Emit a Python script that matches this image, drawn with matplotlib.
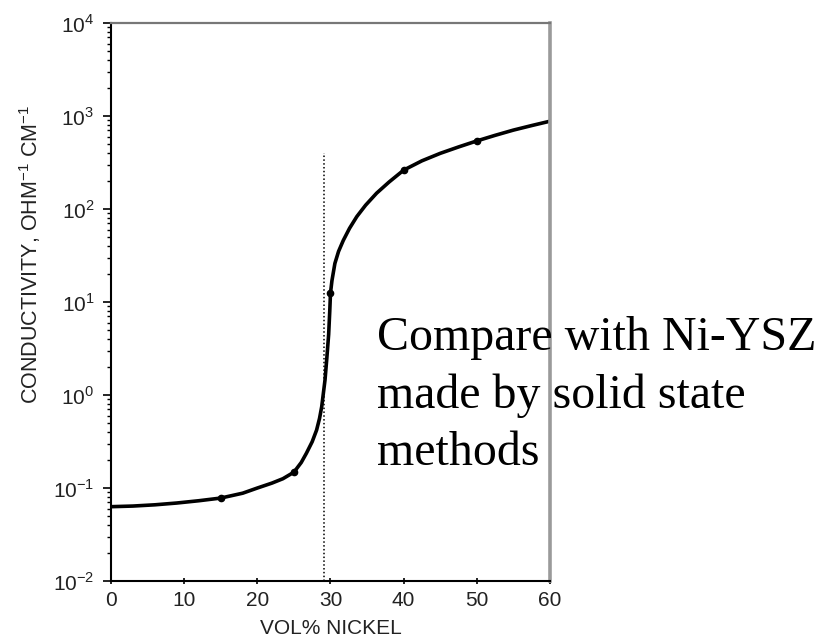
import matplotlib.pyplot as plt
import numpy as np

# conductivity vs nickel content
vol_ni = [0, 3, 6, 9, 12, 15, 18, 20, 22, 23.5, 25, 26, 26.7, 27.5, 28.1, 28.5,
          28.8, 29.25, 29.5, 29.75, 29.9, 30.0, 30.2, 30.6, 31.1, 31.75, 32.6,
          33.6, 34.8, 36.3, 38, 40, 42.5, 45, 47.5, 50, 52.5, 55, 57.5, 60]
sigma = [0.063, 0.064, 0.066, 0.069, 0.073, 0.078, 0.088, 0.100, 0.113, 0.126,
         0.148, 0.188, 0.236, 0.315, 0.42, 0.56, 0.75, 1.45, 2.5, 4.5, 8.0, 12.5,
         17, 26, 35, 46, 62, 83, 110, 148, 195, 262, 330, 397, 465, 540, 620,
         706, 790, 880]

# measured points
pts_x = [15, 25, 30, 40, 50]
pts_y = [0.078, 0.148, 12.5, 262, 540]

# percolation threshold marker
thresh_x = 29.1
thresh_top = 400

note_lines = ["Compare with Ni-YSZ", "made by solid state", "methods"]

plt.rcParams['font.family'] = ['Liberation Sans', 'DejaVu Sans']
plt.rcParams['mathtext.fontset'] = 'custom'
plt.rcParams['mathtext.rm'] = 'Liberation Sans'

fig = plt.figure(figsize=(8.21, 6.38), dpi=100)
ax = fig.add_axes([0.1352, 0.0893, 0.5347, 0.8746])

ax.plot(vol_ni, sigma, color='k', linewidth=2.6, solid_capstyle='round')
ax.plot(pts_x, pts_y, linestyle='none', marker='o', color='k', markersize=4.5)
ax.plot([thresh_x, thresh_x], [1e-2, thresh_top], color='k', linewidth=1.1,
        linestyle=(0, (1, 1.5)))

ax.set_yscale('log')
ax.set_xlim(0, 60)
ax.set_ylim(1e-2, 1e4)
ax.set_xticks([0, 10, 20, 30, 40, 50, 60])
ax.set_yticks([1e-2, 1e-1, 1e0, 1e1, 1e2, 1e3, 1e4])
ax.set_yticklabels([r'$10^{-2}$', r'$10^{-1}$', r'$10^{0}$', r'$10^{1}$',
                    r'$10^{2}$', r'$10^{3}$', r'$10^{4}$'])

ax.tick_params(axis='y', which='major', direction='out', length=6, width=1.2,
               labelsize=15, labelcolor='#222222', pad=6)
ax.tick_params(axis='y', which='minor', direction='out', length=3, width=1.0)
ax.tick_params(axis='x', which='major', direction='inout', length=5, width=1.2,
               labelsize=15, labelcolor='#222222', pad=5)

ax.spines['left'].set_linewidth(1.5)
ax.spines['bottom'].set_linewidth(1.5)
ax.spines['top'].set_color('#777777')
ax.spines['top'].set_linewidth(1.6)
ax.spines['right'].set_color('#9a9a9a')
ax.spines['right'].set_linewidth(2.6)

ax.set_xlabel('VOL% NICKEL', fontsize=15, color='#222222', labelpad=6)
ax.set_ylabel(r'CONDUCTIVITY, OHM$^{-1}$ CM$^{-1}$', fontsize=15.5,
              color='#222222')
ax.yaxis.set_label_coords(-0.155, 0.585)

# note laid over the plot
for i, line in enumerate(note_lines):
    fig.text(0.459, 1 - (350 + 57.5 * i) / 638, line, fontsize=34.5,
             family='Liberation Serif', color='black', va='baseline', ha='left')

plt.savefig("out.png", dpi=100)
